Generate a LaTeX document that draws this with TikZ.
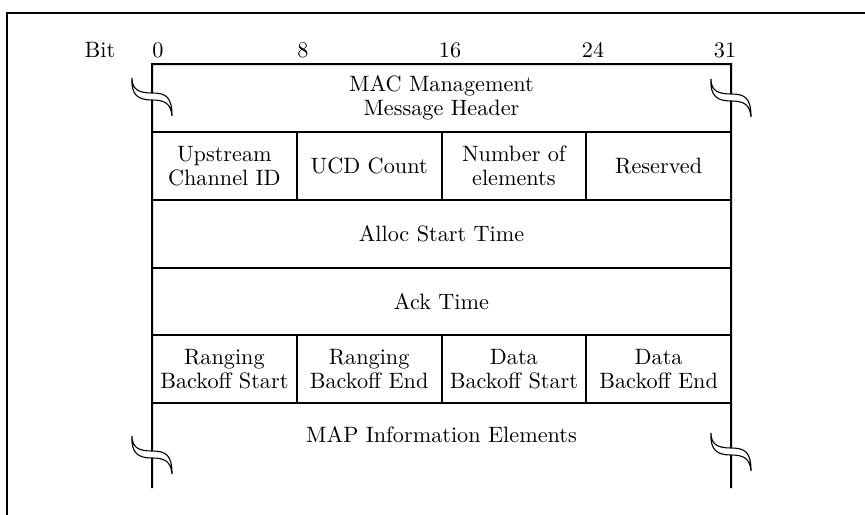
\documentclass[tikz,border=0pt]{standalone}
\usetikzlibrary{positioning}

\begin{document}
\begin{tikzpicture}[
  x=0.45pt, y=-0.45pt,
  every node/.style={font=\fontsize{10}{11}\selectfont},
  rule/.style={line width=0.9pt},
  field/.style={
    draw,
    rule,
    minimum width=65.14pt,
    minimum height=30.5pt,
    inner sep=1pt,
    outer sep=0pt,
    align=center
  },
  wide/.style={field, minimum width=260.55pt},
  open/.style={wide, draw=none},
  brk/.pic={
    \filldraw[fill=white, line width=0.5pt]
      (-20,-19) .. controls (-20,-8) and (-14,-4) .. (0,-4)
      .. controls (14,-4) and (20,0) .. (20,19)
      .. controls (19,6) and (12,3) .. (0,3)
      .. controls (-14,3) and (-21,-2) .. (-20,-19) -- cycle;
  }
]
  \useasboundingbox (0,0) rectangle (865,515);
  % outer frame
  \draw[line width=1.3pt] (7,515) -- (7,13) -- (865,13);

  % bit positions
  \node (bit) at (100,50) {Bit};
  \foreach \x/\b in {158/0,303/8,450/16,593/24,725/31}
    \node (b\b) at (\x,50) {\b};

  % fields
  \node[field, anchor=north west] (chid) at (152,132) {Upstream\\Channel ID};
  \node[field, right=0pt of chid] (ucd) {UCD Count};
  \node[field, right=0pt of ucd] (nelem) {Number of\\elements};
  \node[field, right=0pt of nelem] (resv) {Reserved};
  \node[open, above right=0pt and 0pt of chid.north west] (hdr) {MAC Management\\Message Header};
  \node[wide, below right=0pt and 0pt of chid.south west] (alloc) {Alloc Start Time};
  \node[wide, below right=0pt and 0pt of alloc.south west] (ack) {Ack Time};
  \node[field, below right=0pt and 0pt of ack.south west] (rbs) {Ranging\\Backoff Start};
  \node[field, right=0pt of rbs] (rbe) {Ranging\\Backoff End};
  \node[field, right=0pt of rbe] (dbs) {Data\\Backoff Start};
  \node[field, right=0pt of dbs] (dbe) {Data\\Backoff End};
  \node[open, minimum height=28pt, below right=0pt and 0pt of rbs.south west] (map) {MAP Information Elements};

  % open sides with breaks
  \coordinate (lend) at (152,488);
  \coordinate (rend) at (731,488);
  \draw[rule] (lend) -- (hdr.north west) -- (hdr.north east) -- (rend);
  \pic at (152,97) {brk};
  \pic at (731,98) {brk};
  \pic at (152,455) {brk};
  \pic at (731,452) {brk};
\end{tikzpicture}
\end{document}
